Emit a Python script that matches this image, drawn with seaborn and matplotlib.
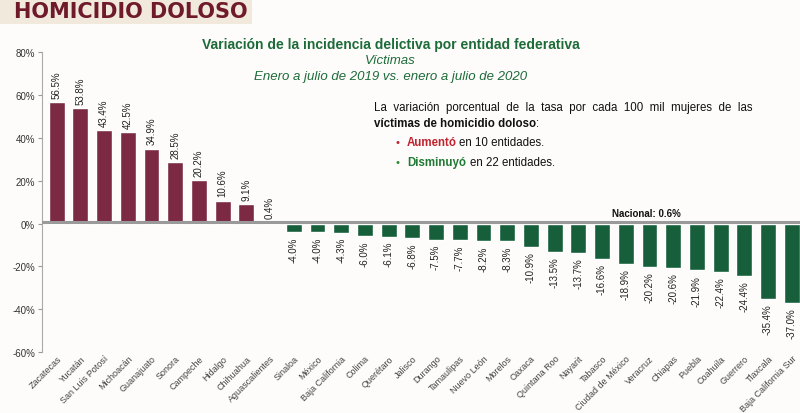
import matplotlib
matplotlib.use("Agg")
import matplotlib.pyplot as plt
import seaborn as sns
import pandas as pd
from matplotlib.patches import Rectangle

states = ["Zacatecas", "Yucatán", "San Luis Potosí", "Michoacán", "Guanajuato", "Sonora",
          "Campeche", "Hidalgo", "Chihuahua", "Aguascalientes", "Sinaloa", "México",
          "Baja California", "Colima", "Querétaro", "Jalisco", "Durango", "Tamaulipas",
          "Nuevo León", "Morelos", "Oaxaca", "Quintana Roo", "Nayarit", "Tabasco",
          "Ciudad de México", "Veracruz", "Chiapas", "Puebla", "Coahuila", "Guerrero",
          "Tlaxcala", "Baja California Sur"]
values = [56.5, 53.8, 43.4, 42.5, 34.9, 28.5, 20.2, 10.6, 9.1, 0.4, -4.0, -4.0,
          -4.3, -6.0, -6.1, -6.8, -7.5, -7.7, -8.2, -8.3, -10.9, -13.5, -13.7, -16.6,
          -18.9, -20.2, -20.6, -21.9, -22.4, -24.4, -35.4, -37.0]
nacional = 0.6
yticks = [-60, -40, -20, 0, 20, 40, 60, 80]

MAROON = "#8A1C3F"
GREEN = "#0B6B3A"

df = pd.DataFrame({"estado": states, "valor": values})
df["signo"] = ["up" if v > 0 else "down" for v in values]

sns.set_style("white")
plt.rcParams["font.family"] = ["Liberation Sans", "DejaVu Sans"]

fig = plt.figure(figsize=(8, 4.14), dpi=100)
fig.patch.set_facecolor("#FDFCFA")

# header band
fig.patches.append(Rectangle((0, 0.94), 0.315, 0.06, transform=fig.transFigure,
                             facecolor="#F1E9DB", edgecolor="none", zorder=0))
fig.text(0.018, 0.970, "HOMICIDIO DOLOSO", fontsize=15, fontweight="bold",
         color="#6E1A2B", va="center", ha="left", family="DejaVu Sans")

ax = fig.add_axes([0.0525, 0.147, 0.9475, 0.725])
ax.set_facecolor("none")
sns.barplot(data=df, x="estado", y="valor", hue="signo", order=states,
            palette={"up": MAROON, "down": GREEN}, dodge=False, legend=False,
            width=0.67, ax=ax, zorder=2)

for i, v in enumerate(values):
    if v >= 0:
        ax.text(i, v + 2.0, f"{v:.1f}%", rotation=90, ha="center", va="bottom",
                fontsize=7, color="#222222")
    else:
        ax.text(i, v - 2.0, f"{v:.1f}%", rotation=90, ha="center", va="top",
                fontsize=7, color="#222222")

ax.axhline(nacional, color="#9A9A9A", lw=2.2, zorder=3)
ax.text(24.85, 2.8, f"Nacional: {nacional}%", fontsize=7, fontweight="bold",
        ha="center", va="bottom", color="#111111")

ax.set_ylim(-60, 80)
ax.set_xlim(-0.62, 31.35)
ax.set_yticks(yticks)
ax.set_yticklabels([f"{t}%" for t in yticks], fontsize=7, color="#333333")
ax.set_xticks(range(len(states)))
ax.set_xticklabels(states, rotation=45, ha="right", rotation_mode="anchor",
                   fontsize=6.5, color="#444444")
ax.tick_params(axis="y", length=3, color="#999999", left=True, pad=2)
ax.tick_params(axis="x", length=0, pad=1)
ax.set_xlabel("")
ax.set_ylabel("")
for s in ["top", "right", "bottom"]:
    ax.spines[s].set_visible(False)
ax.spines["left"].set_color("#AAAAAA")
ax.spines["left"].set_linewidth(0.8)

# titles
fig.text(0.488, 0.892, "Variación de la incidencia delictiva por entidad federativa",
         fontsize=10, fontweight="bold", color="#1E6B3A", ha="center", va="center")
fig.text(0.488, 0.852, "Víctimas", fontsize=9.5, style="italic", color="#1E6B3A",
         ha="center", va="center")
fig.text(0.488, 0.815, "Enero a julio de 2019 vs. enero a julio de 2020", fontsize=9.5,
         style="italic", color="#1E6B3A", ha="center", va="center")

# annotation box
fig.text(0.467, 0.740, "La  variación  porcentual  de  la  tasa  por  cada  100  mil  mujeres  de  las",
         fontsize=8.3, color="#111111", ha="left", va="center")
fig.text(0.467, 0.701, "víctimas de homicidio doloso", fontsize=8.3, fontweight="bold",
         color="#111111", ha="left", va="center")
fig.text(0.6705, 0.701, ":", fontsize=8.3, color="#111111", ha="left", va="center")
fig.text(0.494, 0.654, "•", fontsize=8, color="#C0222E", ha="left", va="center")
fig.text(0.509, 0.654, "Aumentó", fontsize=8.3, fontweight="bold", color="#C0222E",
         ha="left", va="center")
fig.text(0.574, 0.654, "en 10 entidades.", fontsize=8.3, color="#111111", ha="left", va="center")
fig.text(0.494, 0.606, "•", fontsize=8, color="#2A8A3A", ha="left", va="center")
fig.text(0.509, 0.606, "Disminuyó", fontsize=8.3, fontweight="bold", color="#1F7A33",
         ha="left", va="center")
fig.text(0.588, 0.606, "en 22 entidades.", fontsize=8.3, color="#111111", ha="left", va="center")

fig.savefig("out.png", dpi=100, facecolor=fig.get_facecolor())
